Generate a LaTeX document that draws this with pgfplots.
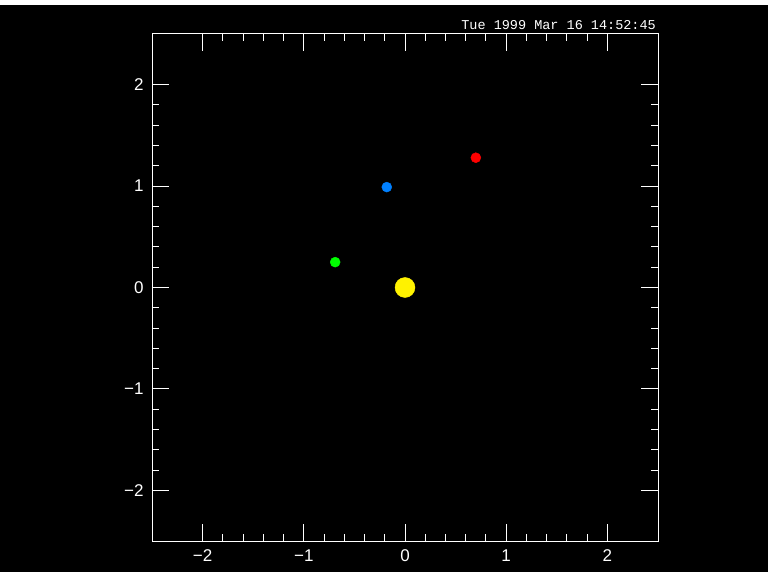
\documentclass[border=0pt]{standalone}
\usepackage{fontspec}
\setmainfont{Liberation Sans}
\newfontfamily\monofont{Liberation Mono}
\usepackage{pgfplots}
\pgfplotsset{compat=1.18}
\definecolor{pblue}{RGB}{0,128,255}
\begin{document}
\begin{tikzpicture}[x=1pt,y=1pt]
\fill[white] (0,0) rectangle (768,576);
\fill[black] (0,4) rectangle (768,571);
\node[anchor=base east,text=white,inner sep=0pt,font=\monofont\fontsize{13.5}{14}\selectfont] at (656,546) {Tue 1999 Mar 16 14:52:45};
\begin{axis}[
  at={(152pt,35pt)}, anchor=south west,
  scale only axis, width=506pt, height=507pt,
  xmin=-2.5, xmax=2.5, ymin=-2.5, ymax=2.5,
  axis line style={white, line width=1pt},
  every tick/.style={white, line width=1pt},
  tick align=inside,
  major tick length=17pt, minor tick length=7pt,
  xtick={-2,-1,0,1,2}, ytick={-2,-1,0,1,2},
  xticklabels={−2,−1,0,1,2}, yticklabels={−2,−1,0,1,2},
  minor tick num=4,
  ticklabel style={text=white, font=\fontsize{17}{19}\selectfont},
  xticklabel style={yshift=-5pt},
  yticklabel style={xshift=-5pt},
  clip=false,
]
\addplot[only marks, mark=*, mark size=10pt, color=yellow, mark options={fill=yellow, draw=yellow}] coordinates {(0,0)};
\addplot[only marks, mark=*, mark size=5pt, color=red, mark options={fill=red, draw=red}] coordinates {(0.70,1.28)};
\addplot[only marks, mark=*, mark size=5pt, color=pblue, mark options={fill=pblue, draw=pblue}] coordinates {(-0.18,0.99)};
\addplot[only marks, mark=*, mark size=5pt, color=green, mark options={fill=green, draw=green}] coordinates {(-0.69,0.25)};
\end{axis}
\end{tikzpicture}
\end{document}
